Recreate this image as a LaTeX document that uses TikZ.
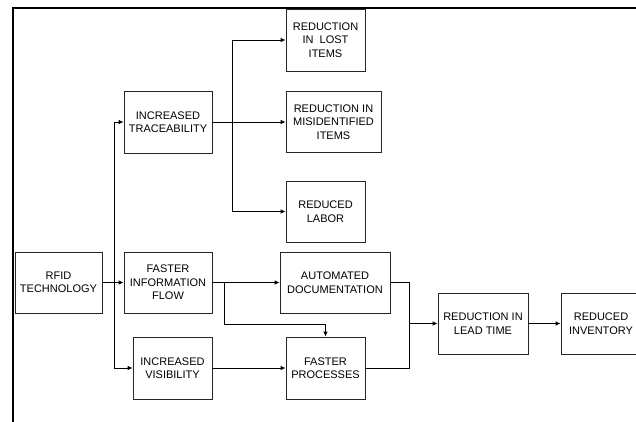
\documentclass[tikz,border=0pt]{standalone}
\usepackage{fontspec}
\setmainfont{Liberation Sans}
\usetikzlibrary{arrows.meta}
\begin{document}
\begin{tikzpicture}[x=1pt,y=-1pt,
  box/.style={draw=black!85,line width=0.8pt,rectangle,inner sep=0pt,align=center,
    font=\fontsize{11}{13.5}\selectfont},
  conn/.style={line width=0.8pt},
  arr/.style={conn,-{Latex[length=5pt,width=4.5pt]}}]
\useasboundingbox (0,0) rectangle (636,422);
\draw[line width=2pt] (13,424) -- (13,8) -- (638,8);
% nodes
\node[box,minimum width=79pt,minimum height=62pt] (lost) at (325.5,40) {REDUCTION\\IN~~LOST\\ITEMS};
\node[box,minimum width=88pt,minimum height=62pt] (trace) at (168,122) {INCREASED\\TRACEABILITY};
\node[box,minimum width=95pt,minimum height=61pt] (mis) at (333.5,122) {REDUCTION IN\\MISIDENTIFIED\\ITEMS};
\node[box,minimum width=79pt,minimum height=61pt] (labor) at (325.5,211.5) {REDUCED\\LABOR};
\node[box,minimum width=87pt,minimum height=61pt] (rfid) at (58.5,282.5) {RFID\\TECHNOLOGY};
\node[box,minimum width=88pt,minimum height=61pt] (info) at (168,282.5) {FASTER\\INFORMATION\\FLOW};
\node[box,minimum width=79pt,minimum height=62pt] (vis) at (172.5,368) {INCREASED\\VISIBILITY};
\node[box,minimum width=110pt,minimum height=61pt] (doc) at (335,282.5) {AUTOMATED\\DOCUMENTATION};
\node[box,minimum width=79pt,minimum height=62pt] (proc) at (325.5,368) {FASTER\\PROCESSES};
\node[box,minimum width=90pt,minimum height=61pt] (lead) at (483,323.5) {REDUCTION IN\\LEAD TIME};
\node[box,minimum width=80pt,minimum height=61pt] (inv) at (601,323.5) {REDUCED\\INVENTORY};
% helper coordinates
\coordinate (j1) at (325.5,324.5);
\coordinate (m) at (409,323.5);
% connectors
\draw[arr] (rfid.east) -- (info.west);
\draw[arr] (rfid.east) -- ++(12,0) |- (trace.west);
\draw[arr] (rfid.east) -- ++(12,0) |- (vis.west);
\draw[arr] (trace.east) -- (mis.west);
\draw[arr] (trace.east) -- ++(20,0) |- (lost.west);
\draw[arr] (trace.east) -- ++(20,0) |- (labor.west);
\draw[arr] (info.east) -- (doc.west);
\draw[arr] (info.east) -- ++(12,0) |- (j1) -- (proc.north);
\draw[arr] (vis.east) -- (proc.west);
\draw[conn] (doc.east) -| (m);
\draw[conn] (proc.east) -| (m);
\draw[arr] (m) -- (lead.west);
\draw[arr] (lead.east) -- (inv.west);
\end{tikzpicture}
\end{document}
